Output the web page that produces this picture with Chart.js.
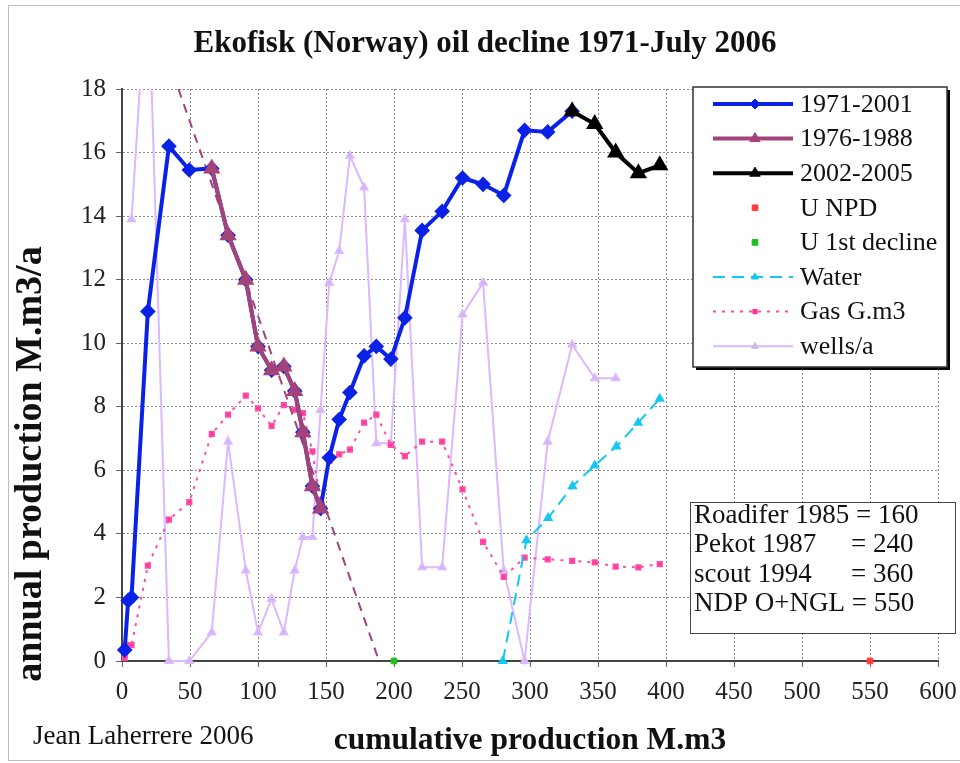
<!DOCTYPE html>
<html>
<head>
<meta charset="utf-8">
<script src="https://cdn.jsdelivr.net/npm/chart.js@4.4.1/dist/chart.umd.min.js"></script>
<style>
  html, body { margin: 0; padding: 0; background: #fff; }
  #wrap { width: 960px; height: 763px; position: relative; }
</style>
</head>
<body>
<div id="wrap"><canvas id="chart"></canvas></div>
<script>
// cumulative production (M.m3) and annual production (M.m3/a)
const cum7101 = [2, 4.5, 7, 19, 34.5, 49.5, 66, 78, 91, 100, 110, 119, 127, 133, 140, 146, 152.4, 159.7, 167.6, 178, 187, 197.7, 208, 220.7, 235.4, 250.4, 265.5, 280.7, 296, 313, 331];
const prod7101 = [0.35, 1.9, 2.0, 11, 16.2, 15.45, 15.5, 13.4, 12, 9.9, 9.15, 9.27, 8.5, 7.2, 5.5, 4.8, 6.4, 7.6, 8.45, 9.6, 9.9, 9.5, 10.8, 13.55, 14.15, 15.2, 15.0, 14.65, 16.7, 16.65, 17.3];

const cum7688 = [66, 78, 91, 100, 110, 119, 127, 133, 140, 146];
const prod7688 = [15.5, 13.4, 12, 9.9, 9.15, 9.27, 8.5, 7.2, 5.5, 4.8];

const cum0205 = [331, 347.6, 363, 379.7, 395.4];
const prod0205 = [17.3, 16.9, 16.0, 15.35, 15.6];

const uNpd = [550, 0];
const u1stDecline = [200, 0];

const cumWater = [280, 297.4, 313.3, 331.2, 347.6, 363.5, 379.5, 395.4];
const water = [0, 3.8, 4.5, 5.5, 6.15, 6.75, 7.5, 8.25];

const cumGas = [2, 4.5, 7, 19, 34.5, 49.5, 66, 78, 91, 100, 110, 119, 127, 133, 140, 146, 152.4, 159.7, 167.6, 178, 187, 197.7, 208, 220.7, 235.4, 250.4, 265.5, 280.7, 296, 313, 331, 347.6, 363, 379.7, 395.4];
const gas = [0.1, 0.5, 0.5, 3.0, 4.45, 5.0, 7.15, 7.75, 8.35, 7.95, 7.4, 8.05, 7.9, 7.8, 6.6, 5.0, 6.3, 6.5, 6.65, 7.5, 7.75, 6.8, 6.45, 6.9, 6.9, 5.4, 3.75, 2.65, 3.25, 3.2, 3.15, 3.1, 2.97, 2.95, 3.05];

const cumWells = [7, 19, 34.5, 49.5, 66, 78, 91, 100, 110, 119, 127, 133, 140, 146, 152.4, 159.7, 167.6, 178, 187, 197.7, 208, 220.7, 235.4, 250.4, 265.5, 280.7, 296, 313, 331, 347.6, 363];
const wells = [13.9, 22, 0, 0, 0.9, 6.9, 2.85, 0.9, 1.95, 0.9, 2.85, 3.9, 3.9, 7.9, 11.9, 12.9, 15.9, 14.9, 6.85, 6.85, 13.9, 2.95, 2.95, 10.9, 11.9, 2.85, 0, 6.9, 9.95, 8.9, 8.9];

// 1976-1988 decline trend
const trendCum = [41.5, 189];
const trendProd = [18, 0];

const xTicksMax = 600;
const yTicksMax = 18;

const notes = [
    ['Roadifer 1985 = 160', ''],
    ['Pekot 1987', '= 240'],
    ['scout 1994', '= 360'],
    ['NDP O+NGL = 550', '']
];

const SERIF = '"Liberation Serif", "DejaVu Serif", serif';

function pts(xs, ys) {
    return xs.map((x, i) => ({ x: x, y: ys[i] }));
}

const looseClip = { left: 10, right: 10, top: 0, bottom: 10 };

const datasets = [
    {
        label: '1971-2001',
        data: pts(cum7101, prod7101),
        borderColor: '#0a22e6', backgroundColor: '#0a22e6',
        borderWidth: 4, pointStyle: 'rectRot', pointRadius: 5,
        order: 5, clip: looseClip
    },
    {
        label: '1976-1988',
        data: pts(cum7688, prod7688),
        borderColor: '#a3437a', backgroundColor: '#a3437a',
        borderWidth: 4, pointStyle: 'triangle', pointRadius: 6,
        order: 4, clip: looseClip
    },
    {
        label: '2002-2005',
        data: pts(cum0205, prod0205),
        borderColor: '#000', backgroundColor: '#000',
        borderWidth: 4, pointStyle: 'triangle', pointRadius: 6,
        order: 3, clip: looseClip
    },
    {
        label: 'U NPD',
        data: [{ x: uNpd[0], y: uNpd[1] }],
        borderColor: '#ff3b3b', backgroundColor: '#ff3b3b',
        showLine: false, pointStyle: 'rect', pointRadius: 4,
        order: 1, clip: looseClip
    },
    {
        label: 'U 1st decline',
        data: [{ x: u1stDecline[0], y: u1stDecline[1] }],
        borderColor: '#1fbf1f', backgroundColor: '#1fbf1f',
        showLine: false, pointStyle: 'rect', pointRadius: 4,
        order: 1, clip: looseClip
    },
    {
        label: 'Water',
        data: pts(cumWater, water),
        borderColor: '#14c8f0', backgroundColor: '#14c8f0',
        borderWidth: 2, borderDash: [12, 7], pointStyle: 'triangle', pointRadius: 4,
        order: 8, clip: looseClip
    },
    {
        label: 'Gas G.m3',
        data: pts(cumGas, gas),
        borderColor: '#ff4da6', backgroundColor: '#ff2f90',
        borderWidth: 2, borderDash: [3, 6], pointStyle: 'rect', pointRadius: 3,
        order: 9, clip: looseClip
    },
    {
        label: 'wells/a',
        data: pts(cumWells, wells),
        borderColor: '#dcb8ff', backgroundColor: '#cdb6e2',
        borderWidth: 2, pointStyle: 'triangle', pointRadius: 4,
        order: 10, clip: looseClip
    },
    {
        label: 'trend',
        data: pts(trendCum, trendProd),
        borderColor: '#a3437a', backgroundColor: '#a3437a',
        borderWidth: 2, borderDash: [9, 7], pointRadius: 0,
        order: 7, clip: looseClip, inLegend: false
    }
];

const frameAndText = {
    id: 'frameAndText',
    beforeDraw(chart) {
        const c = chart.ctx;
        c.save();
        c.fillStyle = '#fff';
        c.fillRect(0, 0, chart.width, chart.height);
        c.strokeStyle = '#bdbdbd';
        c.lineWidth = 1;
        c.strokeRect(8.5, 5.5, chart.width + 20, chart.height - 8);
        c.restore();
    },
    afterDraw(chart) {
        const c = chart.ctx;
        c.save();
        c.fillStyle = '#111';
        c.textBaseline = 'middle';

        // title
        c.textAlign = 'center';
        c.font = 'bold 31px ' + SERIF;
        c.fillText('Ekofisk (Norway) oil decline 1971-July 2006', 485, 44);

        // x axis title
        c.font = 'bold 31.5px ' + SERIF;
        c.fillText('cumulative production M.m3', 530, 741);

        // y axis title
        c.save();
        c.translate(31, 464);
        c.rotate(-Math.PI / 2);
        c.font = 'bold 38px ' + SERIF;
        c.fillText('annual production M.m3/a', 0, 0);
        c.restore();

        // author
        c.textAlign = 'left';
        c.font = '27px ' + SERIF;
        c.fillText('Jean Laherrere 2006', 33, 737);

        // legend
        const lx = 693, ly = 87, lw = 254, lh = 280;
        c.fillStyle = '#000';
        c.fillRect(lx + 3, ly + 3, lw, lh);
        c.fillStyle = '#fff';
        c.fillRect(lx, ly, lw, lh);
        c.strokeStyle = '#333';
        c.lineWidth = 1.5;
        c.strokeRect(lx, ly, lw, lh);

        const entries = chart.data.datasets.filter(d => d.inLegend !== false);
        entries.forEach((d, i) => {
            const yy = 104 + i * 34.6;
            if (d.showLine !== false) {
                c.save();
                c.strokeStyle = d.borderColor;
                c.lineWidth = d.borderWidth;
                c.setLineDash(d.borderDash || []);
                c.beginPath();
                c.moveTo(713, yy);
                c.lineTo(793, yy);
                c.stroke();
                c.restore();
            }
            c.save();
            c.setLineDash([]);
            c.fillStyle = d.backgroundColor;
            c.strokeStyle = d.backgroundColor;
            c.lineWidth = 1;
            Chart.helpers.drawPoint(c, {
                pointStyle: d.pointStyle,
                radius: d.pointRadius,
                rotation: 0,
                borderWidth: 1
            }, 755, yy);
            c.restore();
            c.fillStyle = '#111';
            c.font = '26px ' + SERIF;
            c.textAlign = 'left';
            c.fillText(d.label, 800, yy + 1);
        });

        // notes box
        const bx = 690, by = 502, bw = 265, bh = 131;
        c.fillStyle = '#fff';
        c.fillRect(bx, by, bw, bh);
        c.strokeStyle = '#444';
        c.lineWidth = 1;
        c.strokeRect(bx + 0.5, by + 0.5, bw, bh);
        c.fillStyle = '#111';
        c.font = '27px ' + SERIF;
        notes.forEach((n, i) => {
            const yy = 516 + i * 29.3;
            c.fillText(n[0], 694, yy);
            if (n[1]) c.fillText(n[1], 851, yy);
        });
        c.restore();
    }
};

new Chart(document.getElementById('chart'), {
    type: 'scatter',
    data: { datasets: datasets.map(d => Object.assign({ showLine: true, tension: 0 }, d)) },
    options: {
        responsive: true,
        maintainAspectRatio: false,
        animation: false,
        layout: { padding: { top: 89, right: 22, left: 0, bottom: 0 } },
        plugins: {
            legend: { display: false },
            tooltip: { enabled: false },
            title: { display: false }
        },
        elements: { point: { borderWidth: 1 } },
        scales: {
            x: {
                type: 'linear', min: 0, max: xTicksMax,
                afterFit(s) { s.height = 102; s.paddingRight = 0; s.paddingLeft = 0; },
                ticks: {
                    stepSize: 50, color: '#222', padding: 10,
                    font: { family: SERIF, size: 25 }
                },
                grid: { color: '#8a8a8a', tickLength: 6, tickColor: '#666' },
                border: { color: '#444', width: 2, dash: [2, 2] }
            },
            y: {
                type: 'linear', min: 0, max: yTicksMax,
                afterFit(s) { s.width = 122; s.paddingTop = 0; s.paddingBottom = 0; },
                ticks: {
                    stepSize: 2, color: '#222', padding: 10,
                    font: { family: SERIF, size: 25 }
                },
                grid: { color: '#8a8a8a', tickLength: 6, tickColor: '#666' },
                border: { color: '#444', width: 2, dash: [2, 2] }
            }
        }
    },
    plugins: [frameAndText]
});
</script>
</body>
</html>
